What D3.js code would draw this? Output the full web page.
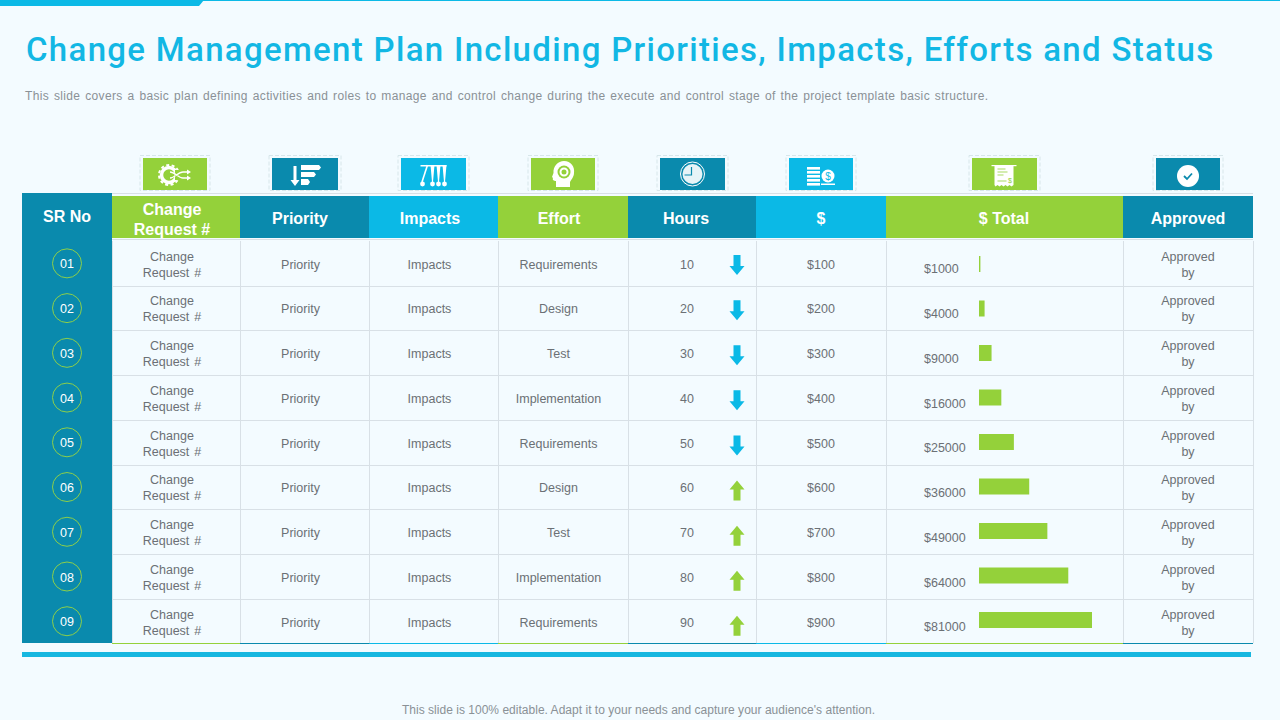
<!DOCTYPE html>
<html><head><meta charset="utf-8">
<script src="https://cdn.jsdelivr.net/npm/d3@7/dist/d3.min.js"></script>
<style>html,body{margin:0;padding:0;background:#f3fbff}svg{display:block}text{font-family:"Liberation Sans",Arial,sans-serif}</style>
</head><body><svg id="c" width="1280" height="720"></svg>
<script>
const titleText="Change Management Plan Including Priorities, Impacts, Efforts and Status";
const subtitleText="This slide covers a basic plan defining activities and roles to manage and control change during the execute and control stage of the project template basic structure.";
const footerText="This slide is 100% editable. Adapt it to your needs and capture your audience's attention.";
const srNo=["01","02","03","04","05","06","07","08","09"];
const headers=[["Change","Request #"],["Priority"],["Impacts"],["Effort"],["Hours"],["$"],["$ Total"],["Approved"]];
const priorityCol=["Priority","Priority","Priority","Priority","Priority","Priority","Priority","Priority","Priority"];
const impactsCol=["Impacts","Impacts","Impacts","Impacts","Impacts","Impacts","Impacts","Impacts","Impacts"];
const effort=["Requirements","Design","Test","Implementation","Requirements","Design","Test","Implementation","Requirements"];
const hours=[10,20,30,40,50,60,70,80,90];
const trend=["down","down","down","down","down","up","up","up","up"];
const dollars=[100,200,300,400,500,600,700,800,900];
const totals=[1000,4000,9000,16000,25000,36000,49000,64000,81000];

const TEAL="#0a8aad",CYAN="#0bb9e6",GREEN="#94d13a",INK="#6b7075",LINE="#d8e0e6";
const headColors=[GREEN,TEAL,CYAN,GREEN,TEAL,CYAN,GREEN,TEAL];
const edges=[112,240,369,498,628,756,886,1123,1253];
const headCx=[172,300,430,559,686,821,1004,1188];
const boxes=[[143,207],[272,338],[401,466],[531,595],[660,725],[789,853],[972,1037],[1156,1220]];
const svg=d3.select("#c");
const row=d3.scaleBand().domain(srNo).range([241,643.6]);
const barRow=d3.scaleBand().domain(srNo).range([241.75,642.25]);
const arrowRow=d3.scaleBand().domain(srNo).range([242.5,648.4]);
const barW=d3.scaleLinear().domain([0,81000]).range([0,113]);
const mid=(sc,s)=>sc(s)+sc.bandwidth()/2;

function cell(x,y,t,c){svg.append("text").attr("x",x).attr("y",y).attr("text-anchor","middle").attr("fill",c||INK).style("font-size","12.5px").style("word-spacing","1.5px").text(t);}
function two(x,cy,a,b){cell(x,cy-2.7,a);cell(x,cy+13.3,b);}

const W="#fff";
const icons=[
 (g,c)=>{
  g.append("circle").attr("cx",-6).attr("cy",1).attr("r",7.5).attr("fill","none").attr("stroke",W).attr("stroke-width",3.5);
  g.append("circle").attr("cx",-6).attr("cy",1).attr("r",10).attr("fill","none").attr("stroke",W).attr("stroke-width",2).attr("stroke-dasharray","3 2.5");
  g.append("rect").attr("x",0).attr("y",-4).attr("width",6).attr("height",10).attr("fill",c);
  g.append("path").attr("d","M-5 -2C0 -2 3 4 8 4H13M-5 4C0 4 3 -2 8 -2H13").attr("fill","none").attr("stroke",W).attr("stroke-width",1.3);
  g.append("path").attr("d","M12 -4.5L16 -2L12 0.5ZM12 1.5L16 4L12 6.5Z").attr("fill",W);
 },
 (g)=>{
  g.append("path").attr("d","M-11.5 -8H-8.5V6H-5.5L-10 12L-14.5 6H-11.5Z").attr("fill",W);
  g.append("path").attr("d","M-4 -9H14L16 -6.5L14 -4H-4ZM-4 -2H9L11 0.5L9 3H-4ZM-4 5H3L5 8L3 11H-4Z").attr("fill",W);
 },
 (g)=>{
  g.append("rect").attr("x",-13).attr("y",-9).attr("width",26).attr("height",1.5).attr("fill",W);
  g.append("path").attr("d","M-6 -9L-11.500 8").attr("stroke",W).attr("stroke-width",1.6).attr("fill","none");
  g.append("path").attr("d","M-3 -9H1L-0.500 8H-1.500ZM3 -9H7L5.500 8H4.500ZM9 -9H13L11.500 8H10.500Z").attr("fill",W);
  [-11,-1,5,11].forEach(x=>g.append("circle").attr("cx",x).attr("cy",10).attr("r",2.4).attr("fill",W));
 },
 (g,c)=>{
  g.append("path").attr("d","M-7 13V7C-9 7 -11 6 -10 4L-11 3L-9.500 -1C-10 -8 -5 -13 1 -13C8 -13 12 -7 11 -1C11 3 8 6 7 8V13Z").attr("fill",W);
  g.append("circle").attr("cx",1).attr("cy",-2).attr("r",6.500).attr("fill",c);
  g.append("circle").attr("cx",1).attr("cy",-2).attr("r",3.500).attr("fill","none").attr("stroke",W).attr("stroke-width",2);
 },
 (g,c)=>{
  g.append("circle").attr("r",12).attr("fill","none").attr("stroke",W);
  g.append("circle").attr("r",10).attr("fill",W).attr("opacity",.9);
  g.append("path").attr("d","M-1 -7V1H-8").attr("fill","none").attr("stroke",c).attr("stroke-width",1.2);
 },
 (g,c)=>{
  [-7,-3,1,5,9].forEach(y=>g.append("rect").attr("x",-14).attr("y",y).attr("width",13).attr("height",2.6).attr("fill",W));
  g.append("circle").attr("cx",7).attr("cy",2).attr("r",6.500).attr("fill",W);
  g.append("text").attr("x",7).attr("y",5.500).attr("text-anchor","middle").attr("fill",c).style("font-size","10px").text("$");
  g.append("rect").attr("x",0).attr("y",9.500).attr("width",14).attr("height",1.500).attr("fill",W);
 },
 (g,c)=>{
  g.append("rect").attr("x",-13).attr("y",-9).attr("width",25).attr("height",1.200).attr("fill",W);
  g.append("path").attr("d","M-10 -9H9V11L7 12.500L5 11L3 12.500L1 11L-1 12.500L-3 11L-5 12.500L-7 11L-9 12.500L-10 11Z").attr("fill",W);
  g.append("path").attr("d","M-7 -5H1M-7 -2H3M-7 1H-1M-7 7H2").attr("stroke",c).attr("fill","none").attr("stroke-width",1).attr("opacity",.8);
  g.append("text").attr("x",5.500).attr("y",9).attr("text-anchor","middle").attr("fill",c).style("font-size","7px").text("$");
 },
 (g,c)=>{
  g.append("circle").attr("cy",2).attr("r",11).attr("fill",W);
  g.append("path").attr("d","M-4 2L-1 5L4 -0.500").attr("fill","none").attr("stroke",c).attr("stroke-width",1.800);
 }
];

svg.append("rect").attr("x",0).attr("y",0).attr("width",1280).attr("height",1).attr("fill",CYAN);
svg.append("path").attr("d","M0 0H204L199 6H0Z").attr("fill",CYAN);

svg.append("text").attr("x",26).attr("y",61).attr("fill","#12b7e4")
 .style("font-family","Roboto").style("font-size","33px").style("font-weight",500).style("letter-spacing","1.32px").text(titleText);
svg.append("text").attr("x",25).attr("y",100).attr("fill","#8a9196")
 .style("font-size","12px").style("word-spacing","1.2px").attr("textLength",963).attr("lengthAdjust","spacing").text(subtitleText);
svg.append("text").attr("x",402).attr("y",714).attr("fill","#8a9196")
 .style("font-size","12px").attr("textLength",473).attr("lengthAdjust","spacing").text(footerText);

svg.append("rect").attr("x",22).attr("y",193).attr("width",90).attr("height",450).attr("fill",TEAL);
svg.append("text").attr("x",67).attr("y",222).attr("text-anchor","middle").attr("fill","#fff")
 .style("font-size","16px").style("font-weight",700).text("SR No");
svg.append("line").attr("x1",112).attr("x2",1253).attr("y1",193.5).attr("y2",193.5).attr("stroke",LINE);
svg.append("line").attr("x1",112).attr("x2",1253).attr("y1",239.5).attr("y2",239.5).attr("stroke",LINE);

headers.forEach((h,i)=>{
  const x0=edges[i],x1=edges[i+1],cx=headCx[i];
  svg.append("rect").attr("x",x0).attr("y",196).attr("width",x1-x0).attr("height",42).attr("fill",headColors[i]);
  const t=svg.append("text").attr("text-anchor","middle").attr("fill","#fff").style("font-size","16px").style("font-weight",700);
  if(h.length===2){
    t.append("tspan").attr("x",cx).attr("y",215).text(h[0]);
    t.append("tspan").attr("x",cx).attr("y",235).text(h[1]);
  } else t.attr("x",cx).attr("y",224).text(h[0]);
  const [b0,b1]=boxes[i];
  svg.append("rect").attr("x",b0-3).attr("y",155.5).attr("width",b1-b0+6).attr("height",35).attr("fill","none")
    .attr("stroke","#d7e6ea").attr("stroke-dasharray","4 2");
  svg.append("rect").attr("x",b0).attr("y",158).attr("width",b1-b0).attr("height",32).attr("fill",headColors[i]);
  const g=svg.append("g").attr("transform",`translate(${(b0+b1)/2},174)`);
  icons[i](g,headColors[i]);
});

edges.forEach(x=>svg.append("line").attr("x1",x+.5).attr("x2",x+.5).attr("y1",241).attr("y2",643).attr("stroke",LINE));
srNo.forEach((s,i)=>{
  const cy=mid(row,s);
  if(i>0) svg.append("line").attr("x1",112).attr("x2",1253).attr("y1",Math.round(row(s))+.5).attr("y2",Math.round(row(s))+.5).attr("stroke",LINE);
  svg.append("circle").attr("cx",67).attr("cy",cy).attr("r",14.5).attr("fill","none").attr("stroke","#8ccf4a");
  cell(67,cy+5,s,"#fff");
  two(172,cy,"Change","Request #");
  cell(300.5,cy+5.3,priorityCol[i]);
  cell(429.5,cy+5.3,impactsCol[i]);
  cell(558.5,cy+5.3,effort[i]);
  cell(687,cy+5.3,hours[i]);
  cell(821,cy+5.3,"$"+dollars[i]);
  svg.append("text").attr("x",924).attr("y",cy+10).attr("fill",INK).style("font-size","12.5px").text("$"+totals[i]);
  const by=mid(barRow,s);
  svg.append("rect").attr("x",979).attr("y",by-8).attr("width",barW(totals[i])).attr("height",16).attr("fill",GREEN);
  two(1188,cy,"Approved","by");
  const p=trend[i]==="down"
    ?"M-3.5 -10H3.5V1H7.5L0 10L-7.5 1H-3.5Z"
    :"M-3.5 10H3.5V-1H7.5L0 -10L-7.5 -1H-3.5Z";
  svg.append("path").attr("transform",`translate(737,${mid(arrowRow,s)})`).attr("d",p).attr("fill",trend[i]==="down"?CYAN:GREEN);
});
headColors.forEach((c,i)=>svg.append("line").attr("x1",edges[i]).attr("x2",edges[i+1]).attr("y1",643.5).attr("y2",643.5).attr("stroke",c));
svg.append("rect").attr("x",22).attr("y",652).attr("width",1229).attr("height",5).attr("fill","#17b7e0");
</script>
</body></html>
